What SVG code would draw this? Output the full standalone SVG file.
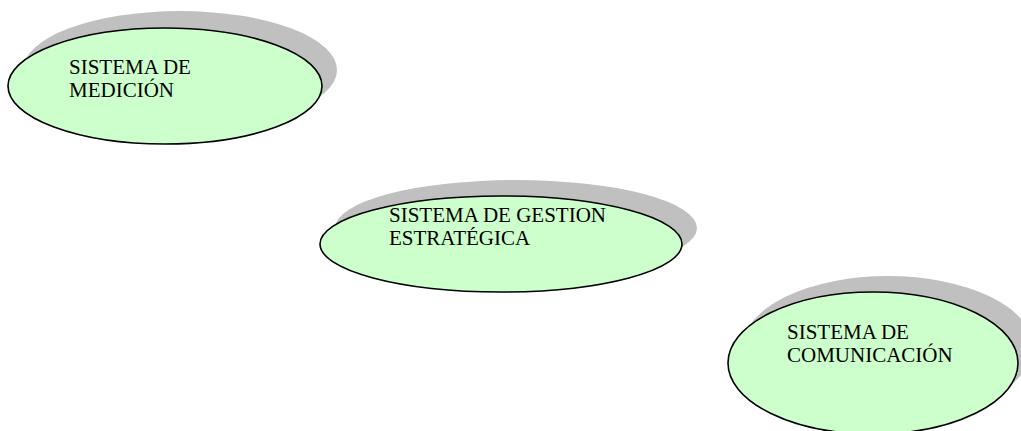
<svg xmlns="http://www.w3.org/2000/svg" width="1021" height="431" viewBox="0 0 1021 431">
<style>
.shadow{fill:#c0c0c0;stroke:none}
.body{fill:#ccffcc;stroke:#000;stroke-width:1.6}
.label{font-family:"Liberation Serif","Times New Roman",serif;font-size:21px;fill:#000}
</style>
<rect width="1021" height="431" fill="#fff"/>
<g id="node-medicion">
<ellipse class="shadow" cx="180" cy="70" rx="157" ry="59"/>
<ellipse class="body" cx="165" cy="86" rx="157" ry="58"/>
<text class="label" x="69" y="74">SISTEMA DE</text>
<text class="label" x="69" y="97">MEDICIÓN</text>
</g>
<g id="node-gestion">
<ellipse class="shadow" cx="516" cy="228" rx="181" ry="48"/>
<ellipse class="body" cx="501" cy="244" rx="181" ry="48"/>
<text class="label" x="389" y="222">SISTEMA DE GESTION</text>
<text class="label" x="389" y="245">ESTRATÉGICA</text>
</g>
<g id="node-comunicacion">
<ellipse class="shadow" cx="888" cy="347" rx="145" ry="71"/>
<ellipse class="body" cx="873" cy="363" rx="145" ry="71"/>
<text class="label" x="787" y="339">SISTEMA DE</text>
<text class="label" x="787" y="362">COMUNICACIÓN</text>
</g>
<g id="connectors"></g>
</svg>
